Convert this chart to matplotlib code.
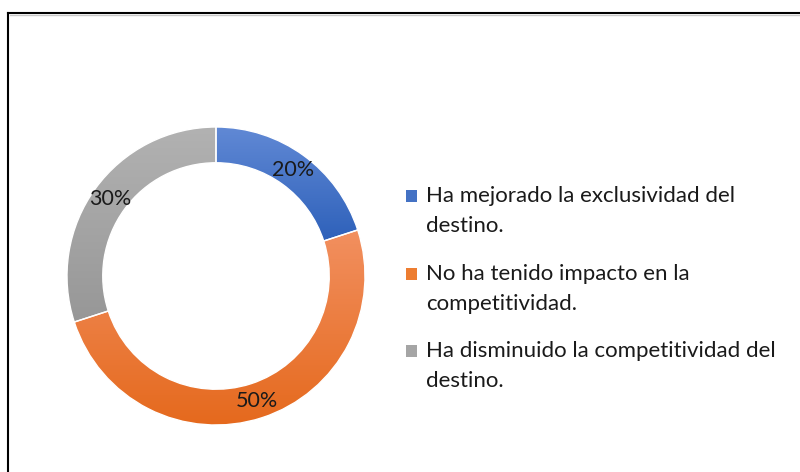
import numpy as np
import matplotlib
matplotlib.use('Agg')
import matplotlib.pyplot as plt
from matplotlib.colors import LinearSegmentedColormap
from matplotlib.patches import Rectangle
from matplotlib.lines import Line2D

labels = ['Ha mejorado la exclusividad del\ndestino.',
          'No ha tenido impacto en la\ncompetitividad.',
          'Ha disminuido la competitividad del\ndestino.']
values = [20, 50, 30]
# (top, bottom) colours of each slice's vertical gradient
gradients = [('#6189D5', '#2E61BA'),
             ('#F29060', '#E5691D'),
             ('#B2B2B2', '#979797')]
legend_colors = ['#4472C4', '#ED7D31', '#A5A5A5']

plt.rcParams['font.family'] = ['Lato', 'DejaVu Sans']
W, H = 800, 472

fig = plt.figure(figsize=(W / 100, H / 100), dpi=100)
ax = fig.add_axes([67 / W, 47 / H, 298 / W, 298 / H])

wedges, texts, autotexts = ax.pie(
    values, startangle=90, counterclock=False, radius=1,
    colors=legend_colors, autopct='%1.0f%%', pctdistance=0.88,
    wedgeprops=dict(width=0.24, edgecolor='white', linewidth=1),
    textprops=dict(fontsize=15.5, color='#1a1a1a'))

grad = np.linspace(0, 1, 256).reshape(-1, 1)
for w, (c_top, c_bot) in zip(wedges, gradients):
    (x0, y0), (x1, y1) = w.get_path().get_extents().get_points()
    cmap = LinearSegmentedColormap.from_list('g', [c_top, c_bot])
    im = ax.imshow(grad, cmap=cmap, extent=(x0, x1, y0, y1), origin='upper',
                   aspect='auto', zorder=0.5, interpolation='bilinear')
    im.set_clip_path(w)
    w.set_facecolor('none')
    w.set_zorder(1)

for t in autotexts:
    t.set_zorder(3)

ax.set_xlim(-1, 1)
ax.set_ylim(-1, 1)
ax.set_aspect('equal')
ax.axis('off')

# legend, drawn by hand so the swatch sits on the first line
first_baseline = 202
item_step = 77.5
line_step = 30
for i, (lab, col) in enumerate(zip(labels, legend_colors)):
    base = first_baseline + i * item_step
    fig.add_artist(Rectangle((406 / W, 1 - base / H), 11.5 / W, 12 / H,
                             transform=fig.transFigure, facecolor=col,
                             edgecolor='none'))
    for j, line in enumerate(lab.split('\n')):
        fig.text(426 / W, 1 - (base + j * line_step) / H, line,
                 fontsize=16, color='#1a1a1a', va='baseline', ha='left')

# chart border (left and top edges visible in the original)
fig.add_artist(Line2D([8 / W, 8 / W], [0, 1 - 13 / H],
                      transform=fig.transFigure, color='black', lw=1.5))
fig.add_artist(Line2D([8 / W, 1], [1 - 13 / H, 1 - 13 / H],
                      transform=fig.transFigure, color='black', lw=1.5))
fig.add_artist(Line2D([10 / W, 1], [1 - 15 / H, 1 - 15 / H],
                      transform=fig.transFigure, color='#c8c8c8', lw=1))

fig.savefig('out.png', dpi=100)
